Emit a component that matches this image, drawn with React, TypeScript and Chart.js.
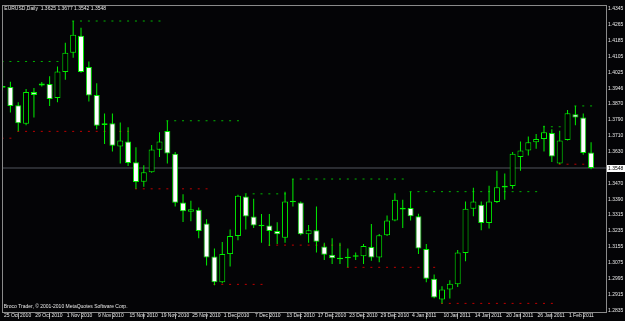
import React, { useEffect, useRef } from 'react';
import { Chart, registerables } from 'chart.js';

Chart.register(...registerables);

// ---- data (EURUSD Daily) ----
const symbolName = 'EURUSD,Daily';
const footerText = 'Broco Trader, \u00A9 2001-2010 MetaQuotes Software Corp.';

const opens = [
  1.3949, 1.3953, 1.3861, 1.3769, 1.3927, 1.3960, 1.3968, 1.3897, 1.4027, 1.4124,
  1.4209, 1.4053, 1.3912, 1.3763, 1.3772, 1.3656, 1.3680, 1.3577, 1.3480, 1.3527,
  1.3639, 1.3733, 1.3619, 1.3376, 1.3330, 1.3340, 1.3271, 1.3106, 1.2978, 1.3118,
  1.3208, 1.3406, 1.3306, 1.3257, 1.3261, 1.3233, 1.3200, 1.3377, 1.3376, 1.3217,
  1.3237, 1.3156, 1.3115, 1.3092, 1.3097, 1.3105, 1.3108, 1.3154, 1.3101, 1.3212,
  1.3286, 1.3341, 1.3348, 1.3307, 1.3143, 1.2995, 1.2891, 1.2941, 1.2967, 1.3123,
  1.3345, 1.3365, 1.3274, 1.3378, 1.3451, 1.3458, 1.3603, 1.3636, 1.3677, 1.3693,
  1.3723, 1.3570, 1.3688, 1.3816, 1.3800, 1.3625,
];
const highs = [
  1.4086, 1.3979, 1.3877, 1.3943, 1.3948, 1.3978, 1.4006, 1.4055, 1.4173, 1.4282,
  1.4249, 1.4080, 1.3971, 1.3820, 1.3820, 1.3775, 1.3751, 1.3652, 1.3562, 1.3663,
  1.3726, 1.3784, 1.3628, 1.3417, 1.3384, 1.3351, 1.3292, 1.3146, 1.3179, 1.3241,
  1.3414, 1.3417, 1.3394, 1.3318, 1.3318, 1.3277, 1.3430, 1.3493, 1.3381, 1.3263,
  1.3356, 1.3175, 1.3197, 1.3175, 1.3146, 1.3126, 1.3168, 1.3269, 1.3218, 1.3311,
  1.3422, 1.3389, 1.3430, 1.3320, 1.3168, 1.3016, 1.2957, 1.2987, 1.3138, 1.3381,
  1.3450, 1.3381, 1.3460, 1.3534, 1.3521, 1.3628, 1.3680, 1.3705, 1.3718, 1.3759,
  1.3742, 1.3734, 1.3838, 1.3858, 1.3820, 1.3677,
];
const lows = [
  1.3933, 1.3825, 1.3731, 1.3761, 1.3800, 1.3955, 1.3858, 1.3877, 1.3989, 1.4099,
  1.4024, 1.3880, 1.3742, 1.3668, 1.3631, 1.3570, 1.3558, 1.3444, 1.3455, 1.3524,
  1.3603, 1.3570, 1.3356, 1.3279, 1.3282, 1.3197, 1.3061, 1.2962, 1.2972, 1.3056,
  1.3187, 1.3241, 1.3249, 1.3175, 1.3159, 1.3168, 1.3175, 1.3356, 1.3212, 1.3175,
  1.3126, 1.3089, 1.3069, 1.3069, 1.3052, 1.3089, 1.3069, 1.3085, 1.3077, 1.3209,
  1.3282, 1.3249, 1.3286, 1.3118, 1.2978, 1.2898, 1.2872, 1.2896, 1.2954, 1.3082,
  1.3307, 1.3237, 1.3246, 1.3373, 1.3389, 1.3444, 1.3534, 1.3611, 1.3644, 1.3631,
  1.3578, 1.3568, 1.3685, 1.3762, 1.3614, 1.3542,
];
const closes = [
  1.3957, 1.3858, 1.3772, 1.3927, 1.3913, 1.3970, 1.3892, 1.4030, 1.4124, 1.4213,
  1.4028, 1.3910, 1.3759, 1.3771, 1.3659, 1.3685, 1.3573, 1.3478, 1.3527, 1.3641,
  1.3680, 1.3621, 1.3375, 1.3332, 1.3342, 1.3233, 1.3101, 1.2978, 1.3118, 1.3208,
  1.3409, 1.3306, 1.3261, 1.3265, 1.3233, 1.3217, 1.3381, 1.3385, 1.3217, 1.3237,
  1.3180, 1.3115, 1.3097, 1.3100, 1.3105, 1.3113, 1.3159, 1.3101, 1.3212, 1.3286,
  1.3389, 1.3349, 1.3307, 1.3146, 1.2995, 1.2901, 1.2941, 1.2970, 1.3126, 1.3345,
  1.3381, 1.3274, 1.3381, 1.3452, 1.3459, 1.3619, 1.3636, 1.3677, 1.3693, 1.3726,
  1.3606, 1.3685, 1.3821, 1.3800, 1.3623, 1.3548,
];

const dateTickBars = [0, 4, 8, 12, 16, 20, 24, 28, 32, 36, 40, 44, 48, 52, 56, 60, 64, 68, 72];
const dateLabels = [
  '25 Oct 2010', '29 Oct 2010', '1 Nov 2010', '9 Nov 2010', '15 Nov 2010', '19 Nov 2010',
  '25 Nov 2010', '1 Dec 2010', '7 Dec 2010', '13 Dec 2010', '17 Dec 2010', '23 Dec 2010',
  '29 Dec 2010', '4 Jan 2011', '10 Jan 2011', '14 Jan 2011', '20 Jan 2011', '26 Jan 2011',
  '1 Feb 2011',
];

const priceTicks = [
  1.4345, 1.4265, 1.4185, 1.4105, 1.4025, 1.3946, 1.3870, 1.3790, 1.3710, 1.3630,
  1.3470, 1.3390, 1.3315, 1.3235, 1.3155, 1.3075, 1.2995, 1.2915, 1.2835,
];

// dotted support / resistance levels
const levelPrices = [1.4080, 1.3697, 1.3731, 1.4282, 1.3444, 1.3784, 1.3419, 1.2967, 1.3163, 1.3493, 1.3052, 1.3430, 1.2872, 1.3754, 1.3567, 1.3858];
const levelFrom = [0, 0, 2, 9, 17, 21, 31, 27, 34, 37, 44, 52, 56, 69, 71, 73];
const levelTo = [8, 1, 16, 20, 26, 30, 36, 33, 43, 51, 55, 68, 70, 72, 75, 75];
const levelKinds = ['high', 'low', 'low', 'high', 'low', 'high', 'high', 'low', 'low', 'high', 'low', 'high', 'low', 'high', 'low', 'high'];

const X_MIN = -0.07;
const X_MAX = 76.9;
const Y_MIN = 1.2829;
const Y_MAX = 1.4362;

const BG = '#040406';
const CANDLE = '#00f000';
const TEXT = '#e8e8e8';
const FRAME = '#8a8a8a';
const FONT = '"Liberation Sans", Arial, sans-serif';

export default function App() {
  const ref = useRef<HTMLCanvasElement>(null);

  useEffect(() => {
    document.body.style.margin = '0';
    document.body.style.background = BG;
    const canvas = ref.current;
    if (!canvas) return;

    const idx = opens.map((_, i) => i);
    const wicks = idx.map((i) => ({ x: i, y: [lows[i], highs[i]] }));
    const bodies = idx.map((i) => ({ x: i, y: [opens[i], closes[i]] }));
    const bodyFill = idx.map((i) => (closes[i] < opens[i] ? '#ffffff' : '#000000'));

    const greenDots: { x: number; y: number }[] = [];
    const redDots: { x: number; y: number }[] = [];
    levelPrices.forEach((p, k) => {
      for (let b = levelFrom[k]; b <= levelTo[k]; b++) {
        (levelKinds[k] === 'high' ? greenDots : redDots).push({ x: b, y: p });
      }
    });

    const last = idx.length - 1;
    const lastClose = closes[last];
    const headerText = `${symbolName}  ${opens[last].toFixed(4)} ${highs[last].toFixed(4)} ${lows[last].toFixed(4)} ${lastClose.toFixed(4)}`;

    const overlay = {
      id: 'overlay',
      afterDraw(chart: any) {
        const { ctx, chartArea: a } = chart;
        const ys = chart.scales.y;
        ctx.save();
        ctx.strokeStyle = FRAME;
        ctx.lineWidth = 1;
        ctx.strokeRect(a.left + 0.5, a.top + 0.5, a.right - a.left, a.bottom - a.top);
        ctx.font = `5px ${FONT}`;
        ctx.fillStyle = TEXT;
        ctx.textBaseline = 'middle';
        ctx.textAlign = 'left';
        ctx.fillText(headerText, a.left + 2.3, a.top + 4);
        ctx.fillText(footerText, a.left + 1.7, a.bottom - 5.3);
        const py = ys.getPixelForValue(lastClose);
        ctx.fillStyle = '#ffffff';
        ctx.fillRect(a.right + 1, Math.round(py) - 3, 19, 7);
        ctx.fillStyle = '#000000';
        ctx.fillText(lastClose.toFixed(4), a.right + 2, Math.round(py) + 0.5);
        ctx.restore();
      },
    };

    const chart = new Chart(canvas, {
      type: 'bar',
      data: {
        datasets: [
          {
            type: 'bar',
            data: bodies as any,
            backgroundColor: bodyFill,
            borderColor: CANDLE,
            borderWidth: 1,
            borderSkipped: false,
            barThickness: 6,
            grouped: false,
            inflateAmount: 0,
            order: 0,
          } as any,
          {
            type: 'bar',
            data: wicks as any,
            backgroundColor: CANDLE,
            borderWidth: 0,
            barThickness: 1,
            grouped: false,
            inflateAmount: 0,
            order: 1,
          } as any,
          {
            type: 'line',
            data: greenDots as any,
            showLine: false,
            pointStyle: 'line',
            pointRadius: 1,
            pointHoverRadius: 0,
            pointBorderWidth: 1,
            pointBorderColor: '#00b400',
            order: 2,
          } as any,
          {
            type: 'line',
            data: redDots as any,
            showLine: false,
            pointStyle: 'line',
            pointRadius: 1,
            pointHoverRadius: 0,
            pointBorderWidth: 1,
            pointBorderColor: '#c00000',
            order: 2,
          } as any,
          {
            type: 'line',
            data: [
              { x: X_MIN, y: lastClose },
              { x: X_MAX, y: lastClose },
            ] as any,
            borderColor: '#50555c',
            borderWidth: 1,
            pointRadius: 0,
            order: 5,
          } as any,
        ],
      },
      options: {
        animation: false,
        responsive: false,
        devicePixelRatio: 1,
        events: [],
        layout: { padding: { left: 1, top: 1, right: 0, bottom: 0 } },
        plugins: { legend: { display: false }, tooltip: { enabled: false } },
        scales: {
          x: {
            type: 'linear',
            position: 'bottom',
            min: X_MIN,
            max: X_MAX,
            offset: false,
            afterBuildTicks: (s: any) => {
              s.ticks = dateTickBars.map((v) => ({ value: v }));
            },
            afterFit: (s: any) => {
              s.height = 9;
            },
            ticks: {
              autoSkip: false,
              maxRotation: 0,
              minRotation: 0,
              align: 'start',
              padding: -6.5,
              color: TEXT,
              font: { family: FONT, size: 5 },
              callback: (_v: any, i: number) => ' ' + dateLabels[i],
            },
            grid: {
              display: true,
              drawOnChartArea: false,
              drawTicks: true,
              tickLength: 7,
              color: FRAME,
            },
            border: { display: false },
          },
          y: {
            type: 'linear',
            position: 'right',
            min: Y_MIN,
            max: Y_MAX,
            afterBuildTicks: (s: any) => {
              s.ticks = priceTicks.map((v) => ({ value: v }));
            },
            afterFit: (s: any) => {
              s.width = 19;
            },
            ticks: {
              padding: 2,
              color: TEXT,
              font: { family: FONT, size: 5 },
              callback: (v: any) => Number(v).toFixed(4),
            },
            grid: { display: false, drawTicks: false },
            border: { display: false },
          },
        },
      } as any,
      plugins: [overlay],
    });

    return () => chart.destroy();
  }, []);

  return (
    <div style={{ width: 625, height: 321, background: BG }}>
      <canvas ref={ref} width={625} height={321} style={{ display: 'block' }} />
    </div>
  );
}
